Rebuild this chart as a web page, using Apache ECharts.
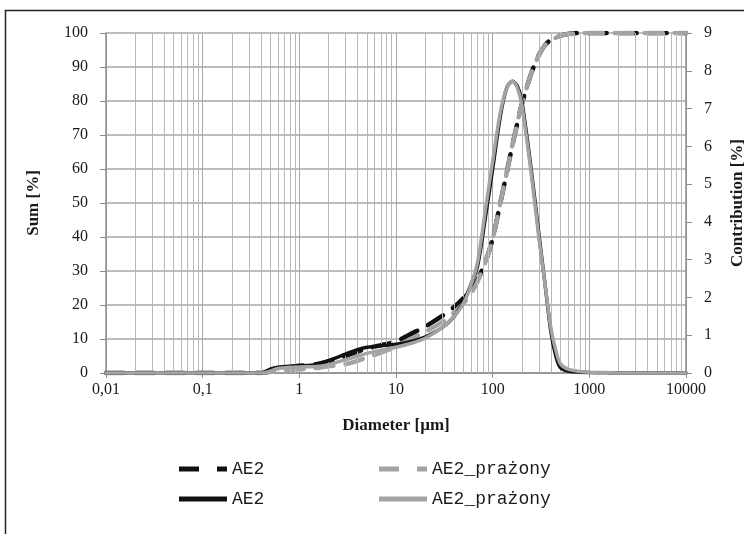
<!DOCTYPE html>
<html>
<head>
<meta charset="utf-8">
<script src="https://cdn.jsdelivr.net/npm/echarts@6/dist/echarts.min.js"></script>
<style>
  html, body { margin: 0; background: #fff; }
  #chart { width: 744px; height: 534px; }
</style>
</head>
<body>
<div id="chart"></div>
<script>
// particle diameters [µm] shared by all four curves
const diameters = [0.01, 0.1, 0.4, 0.5, 0.6, 0.8, 1, 1.5, 2, 3, 4, 5, 7, 10, 15, 20, 30, 40, 50, 60, 70, 85, 100, 120, 140, 160, 180, 200, 250, 300, 350, 400, 450, 500, 600, 800, 1000, 1500, 2000, 5000, 10000];

// cumulative sum [%] (left axis, dashed)
const sumAE2 = [0, 0, 0, 0.5, 1.2, 1.8, 2.1, 2.6, 3.4, 5, 6.3, 7.2, 8.2, 9.3, 11.8, 13.6, 16.8, 19.4, 22, 24.5, 27.5, 33, 39.5, 50, 59, 67, 73.5, 79, 88, 93.5, 96.5, 98, 98.6, 99.2, 99.7, 100, 100, 100, 100, 100, 100];
const sumAE2Prazony = [0, 0, 0, 0.3, 0.6, 0.9, 1.1, 1.5, 2, 2.6, 3.6, 4.6, 6, 7.8, 10.3, 12, 15, 17.8, 20.5, 23.5, 27, 33, 39.5, 50, 59, 67, 73.5, 79, 88, 93.5, 96.5, 98, 98.6, 99.2, 99.7, 100, 100, 100, 100, 100, 100];

// contribution [%] (right axis, solid)
const contribAE2 = [0, 0, 0, 0.1, 0.15, 0.18, 0.19, 0.22, 0.33, 0.5, 0.62, 0.68, 0.72, 0.76, 0.85, 0.95, 1.2, 1.5, 1.9, 2.35, 2.85, 4.2, 5.4, 6.8, 7.55, 7.72, 7.6, 7.2, 5.4, 3.7, 2.3, 1.1, 0.45, 0.15, 0.05, 0.02, 0.01, 0.005, 0, 0, 0];
const contribAE2Prazony = [0, 0, 0, 0.05, 0.12, 0.15, 0.16, 0.17, 0.22, 0.35, 0.45, 0.52, 0.6, 0.68, 0.8, 0.92, 1.2, 1.5, 1.85, 2.35, 2.95, 4.4, 5.6, 6.9, 7.55, 7.72, 7.55, 7.1, 5.3, 3.6, 2.3, 1.2, 0.6, 0.25, 0.1, 0.04, 0.02, 0.01, 0, 0, 0];

const xTickLabels = ["0,01", "0,1", "1", "10", "100", "1000", "10000"];

const serif = "Liberation Serif";
const mono = "Liberation Mono";
const ink = "#1a1a1a";
const black = "#111111";
const gray = "#a3a3a3";
const axisGray = "#8c8c8c";

// legend glyphs: a dashed and a solid stroke
const dashedIcon = "path://M0,0H20V5H0Z M38,0H48V5H38Z";
const solidIcon = "path://M0,0H48V5H0Z";

// minor log grid lines 2..9 in every decade
const minorLines = [];
for (let e = -2; e < 4; e++) {
  for (let k = 2; k <= 9; k++) minorLines.push({ xAxis: Number((k * Math.pow(10, e)).toPrecision(3)) });
}

const pairs = (ys) => diameters.map((d, i) => [d, ys[i]]);

const chart = echarts.init(document.getElementById("chart"), null, { renderer: "canvas" });

const legendBase = {
  itemWidth: 48,
  itemHeight: 5,
  textStyle: { fontFamily: mono, fontSize: 18, color: ink },
  formatter: (name) => name.trim(),
  selectedMode: false,
};

chart.setOption({
  animation: false,
  backgroundColor: "#fff",
  grid: { left: 106, right: 58, top: 33, bottom: 161, outerBoundsMode: "none", containLabel: false },
  graphic: [{
    type: "rect",
    shape: { x: 5.5, y: 10.5, width: 760, height: 540 },
    style: { fill: "none", stroke: "#222", lineWidth: 1.5 },
    silent: true,
  }],
  legend: [
    { ...legendBase, data: [{ name: "AE2", icon: dashedIcon }], left: 174, top: 455 },
    { ...legendBase, data: [{ name: "AE2_prażony", icon: dashedIcon }], left: 374, top: 455 },
    { ...legendBase, data: [{ name: "AE2 ", icon: solidIcon }], left: 174, top: 485 },
    { ...legendBase, data: [{ name: "AE2_prażony ", icon: solidIcon }], left: 374, top: 485 },
  ],
  xAxis: {
    type: "log",
    logBase: 10,
    min: 0.01,
    max: 10000,
    splitNumber: 6,
    name: "Diameter [µm]",
    nameLocation: "middle",
    nameGap: 44,
    nameTextStyle: { fontFamily: serif, fontSize: 17, fontWeight: "bold", color: ink },
    axisLine: { show: true, onZero: false, lineStyle: { color: axisGray, width: 1.5 } },
    axisTick: { show: true, length: 5, lineStyle: { color: axisGray } },
    axisLabel: {
      fontFamily: serif, fontSize: 16, color: ink, margin: 9,
      formatter: (v) => xTickLabels[Math.round(Math.log10(v)) + 2],
    },
    splitLine: { show: true, lineStyle: { color: "#a8a8a8", width: 1 } },
  },
  yAxis: [
    {
      type: "value",
      min: 0,
      max: 100,
      interval: 10,
      name: "Sum [%]",
      nameLocation: "middle",
      nameRotate: 90,
      nameGap: 64,
      nameTextStyle: { fontFamily: serif, fontSize: 17, fontWeight: "bold", color: ink },
      axisLine: { show: true, lineStyle: { color: axisGray, width: 1.5 } },
      axisTick: { show: true, length: 6, lineStyle: { color: axisGray } },
      axisLabel: { fontFamily: serif, fontSize: 16, color: ink, margin: 18 },
      splitLine: { show: true, lineStyle: { color: "#a8a8a8", width: 1.5 } },
    },
    {
      type: "value",
      position: "right",
      min: 0,
      max: 9,
      interval: 1,
      name: "Contribution [%]",
      nameLocation: "middle",
      nameRotate: 90,
      nameGap: 43,
      nameTextStyle: { fontFamily: serif, fontSize: 17, fontWeight: "bold", color: ink },
      axisLine: { show: true, lineStyle: { color: axisGray, width: 1.5 } },
      axisTick: { show: true, length: 6, lineStyle: { color: axisGray } },
      axisLabel: { fontFamily: serif, fontSize: 16, color: ink, margin: 18 },
      splitLine: { show: false },
    },
  ],
  series: [
    {
      name: "grid",
      type: "line",
      data: [],
      z: 1,
      silent: true,
      markLine: {
        silent: true,
        symbol: "none",
        label: { show: false },
        lineStyle: { color: "#b8b8b8", width: 1, type: "solid" },
        data: minorLines,
        animation: false,
      },
    },
    {
      name: "AE2",
      type: "line",
      yAxisIndex: 0,
      data: pairs(sumAE2),
      symbol: "none",
      smooth: 0.3,
      z: 3,
      lineStyle: { color: black, width: 4.5, type: [18, 12], cap: "round" },
      itemStyle: { color: black },
    },
    {
      name: "AE2_prażony",
      type: "line",
      yAxisIndex: 0,
      data: pairs(sumAE2Prazony),
      symbol: "none",
      smooth: 0.3,
      z: 4,
      lineStyle: { color: gray, width: 4.5, type: [18, 12], cap: "round" },
      itemStyle: { color: gray },
    },
    {
      name: "AE2 ",
      type: "line",
      yAxisIndex: 1,
      data: pairs(contribAE2),
      symbol: "none",
      smooth: 0.3,
      z: 5,
      lineStyle: { color: black, width: 3.5, cap: "round" },
      itemStyle: { color: black },
    },
    {
      name: "AE2_prażony ",
      type: "line",
      yAxisIndex: 1,
      data: pairs(contribAE2Prazony),
      symbol: "none",
      smooth: 0.3,
      z: 6,
      lineStyle: { color: gray, width: 3.5, cap: "round" },
      itemStyle: { color: gray },
    },
  ],
});
</script>
</body>
</html>
